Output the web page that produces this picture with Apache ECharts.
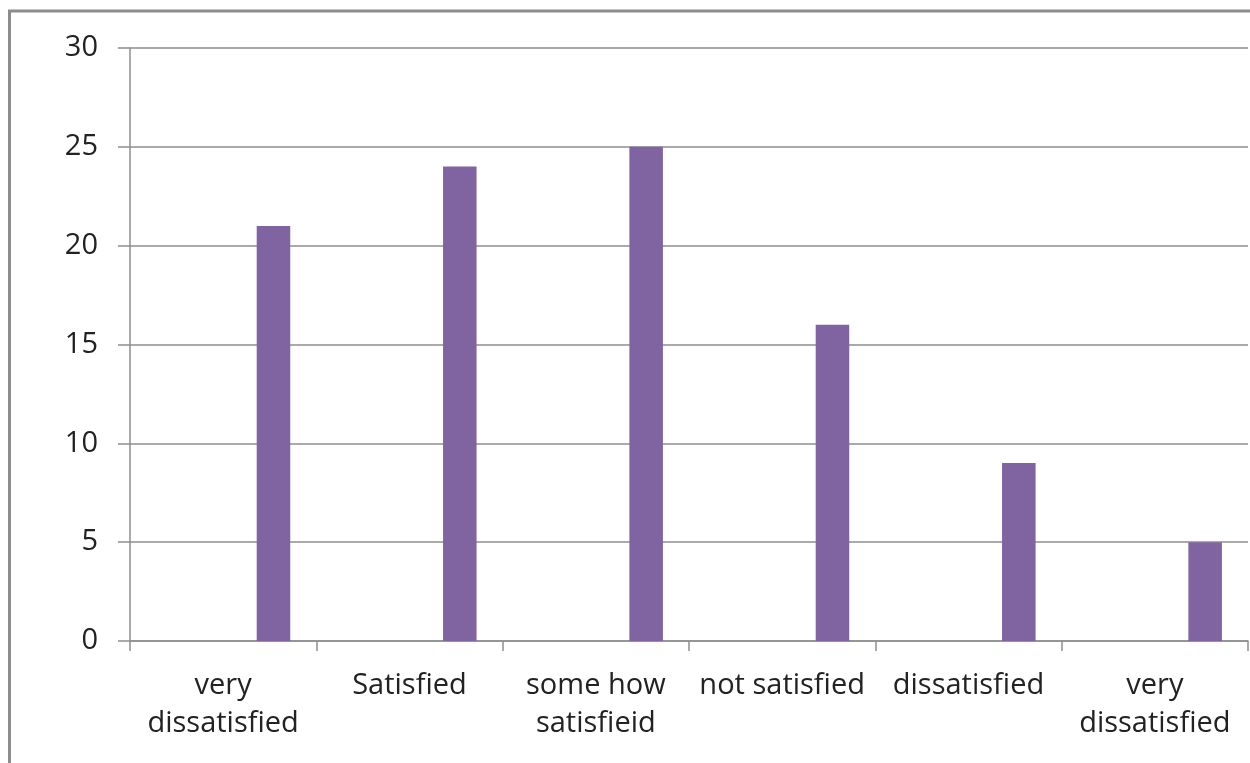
<!DOCTYPE html>
<html>
<head>
<meta charset="utf-8">
<script src="https://cdn.jsdelivr.net/npm/echarts@6/dist/echarts.min.js"></script>
<style>
html,body{margin:0;padding:0;background:#fff;}
#chart{width:1250px;height:763px;}
</style>
</head>
<body>
<div id="chart"></div>
<script>
const categories = ['very\ndissatisfied', 'Satisfied', 'some how\nsatisfieid', 'not satisfied', 'dissatisfied', 'very\ndissatisfied'];
const values = [21, 24, 25, 16, 9, 5];
const hiddenSeriesCount = 3; // empty series that reserve slots before the visible bar
const yTicks = { min: 0, max: 30, interval: 5 };

const chart = echarts.init(document.getElementById('chart'), null, { renderer: 'canvas' });
const font = '"Open Sans", sans-serif';
const gridColor = '#8e8e8e';

const series = [];
for (let i = 0; i < hiddenSeriesCount; i++) {
  series.push({ type: 'bar', data: [], barGap: '0%', barCategoryGap: '28%' });
}
series.push({
  type: 'bar',
  data: values,
  barGap: '0%',
  barCategoryGap: '28%',
  itemStyle: { color: '#8064A2' },
  silent: true
});

chart.setOption({
  animation: false,
  graphic: [{
    type: 'rect',
    shape: { x: 9.5, y: 11, width: 1400, height: 900 },
    style: { fill: 'none', stroke: '#8c8c8c', lineWidth: 3 },
    silent: true
  }],
  grid: { left: 130, right: 2, top: 48, bottom: 122, containLabel: false },
  xAxis: {
    type: 'category',
    data: categories,
    axisLine: { lineStyle: { color: gridColor, width: 1.5 } },
    axisTick: { show: true, length: 10, lineStyle: { color: gridColor, width: 1.5 } },
    axisLabel: {
      interval: 0,
      margin: 26,
      color: '#222',
      fontFamily: font,
      fontSize: 29,
      lineHeight: 38
    }
  },
  yAxis: {
    type: 'value',
    min: yTicks.min,
    max: yTicks.max,
    interval: yTicks.interval,
    axisLine: { show: true, lineStyle: { color: gridColor, width: 1.5 } },
    axisTick: { show: true, length: 12, lineStyle: { color: gridColor, width: 1.5 } },
    splitLine: { show: true, lineStyle: { color: gridColor, width: 1.5 } },
    axisLabel: {
      margin: 32,
      color: '#222',
      fontFamily: font,
      fontSize: 29
    }
  },
  series: series
});
</script>
</body>
</html>
